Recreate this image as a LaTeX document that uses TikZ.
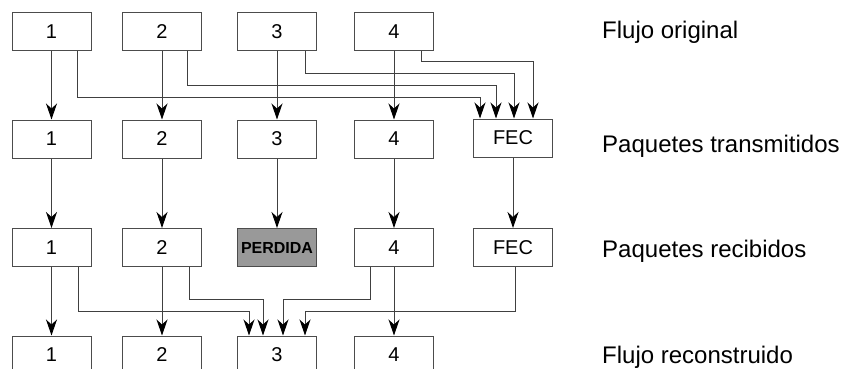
\documentclass[tikz,border=0pt]{standalone}
\usepackage{fontspec}
\setmainfont{Liberation Sans}
\usetikzlibrary{arrows.meta, positioning}

\begin{document}
\begin{tikzpicture}[
  x=1pt, y=-1pt,
  every node/.style = {font=\fontsize{20}{24}\selectfont},
  pkt/.style  = {rectangle, draw=black!70, line width=1pt, fill=white,
                 minimum width=79pt, minimum height=38pt, inner sep=0pt},
  lost/.style = {pkt, fill=black!40,
                 font=\fontsize{16}{19}\selectfont\bfseries},
  lbl/.style  = {anchor=base west, inner sep=0pt,
                 font=\fontsize{24}{28}\selectfont},
  arr/.style  = {-{Stealth[length=16pt, width=11pt, inset=5pt, black]},
                 line width=1pt, black!75},
]
\clip (0,0) rectangle (845,369);

%% ── Flujo original ───────────────────────────────────────────────────────
\node[pkt] at (51.5, 32) (o1) {1};
\node[pkt] at (162, 32)  (o2) {2};
\node[pkt] at (277, 32)  (o3) {3};
\node[pkt] at (394, 32)  (o4) {4};

%% ── Paquetes transmitidos ────────────────────────────────────────────────
\node[pkt] at (51.5, 139) (t1) {1};
\node[pkt] at (162, 139)  (t2) {2};
\node[pkt] at (277, 139)  (t3) {3};
\node[pkt] at (394, 139)  (t4) {4};
\node[pkt] at (513, 138)  (tfec) {FEC};

%% ── Paquetes recibidos ───────────────────────────────────────────────────
\node[pkt]  at (51.5, 247.5) (r1) {1};
\node[pkt]  at (162, 247.5)  (r2) {2};
\node[lost] at (277, 247.5)  (r3) {PERDIDA};
\node[pkt]  at (394, 247.5)  (r4) {4};
\node[pkt]  at (513, 247.5)  (rfec) {FEC};

%% ── Flujo reconstruido ───────────────────────────────────────────────────
\node[pkt] at (51.5, 355) (f1) {1};
\node[pkt] at (162, 355)  (f2) {2};
\node[pkt] at (277, 355)  (f3) {3};
\node[pkt] at (394, 355)  (f4) {4};

%% ── Row labels ───────────────────────────────────────────────────────────
\node[lbl] at (602, 38)  (lorig) {Flujo original};
\node[lbl] at (602, 152) (ltx)   {Paquetes transmitidos};
\node[lbl] at (602, 257) (lrx)   {Paquetes recibidos};
\node[lbl] at (602, 363) (lrec)  {Flujo reconstruido};

%% ── Straight arrows ──────────────────────────────────────────────────────
\foreach \k in {1,2,3,4} {
  \draw[arr] (o\k) -- (t\k);
  \draw[arr] (t\k) -- (r\k);
}
\draw[arr] (tfec) -- (rfec);
\draw[arr] (r1) -- (f1);
\draw[arr] (r2) -- (f2);
\draw[arr] (r4) -- (f4);

%% ── Into the FEC packet ──────────────────────────────────────────────────
\draw[arr] ([xshift=25.5pt]o1.south) -- ++(0,46) -| ([xshift=-33pt]tfec.north);
\draw[arr] ([xshift=25pt]o2.south)   -- ++(0,34) -| ([xshift=-17pt]tfec.north);
\draw[arr] ([xshift=28pt]o3.south)   -- ++(0,22) -| ([xshift=1pt]tfec.north);
\draw[arr] ([xshift=27pt]o4.south)   -- ++(0,10) -| ([xshift=20pt]tfec.north);

%% ── Rebuilding packet 3 ──────────────────────────────────────────────────
\draw[arr] ([xshift=26.5pt]r1.south) -- ++(0,44.5) -| ([xshift=-28pt]f3.north);
\draw[arr] ([xshift=27pt]r2.south)   -- ++(0,32.5) -| ([xshift=-14pt]f3.north);
\draw[arr] ([xshift=-24pt]r4.south)  -- ++(0,32.5) -| ([xshift=6pt]f3.north);
\draw[arr] ([xshift=2pt]rfec.south)  -- ++(0,44.5) -| ([xshift=28pt]f3.north);

\end{tikzpicture}
\end{document}
